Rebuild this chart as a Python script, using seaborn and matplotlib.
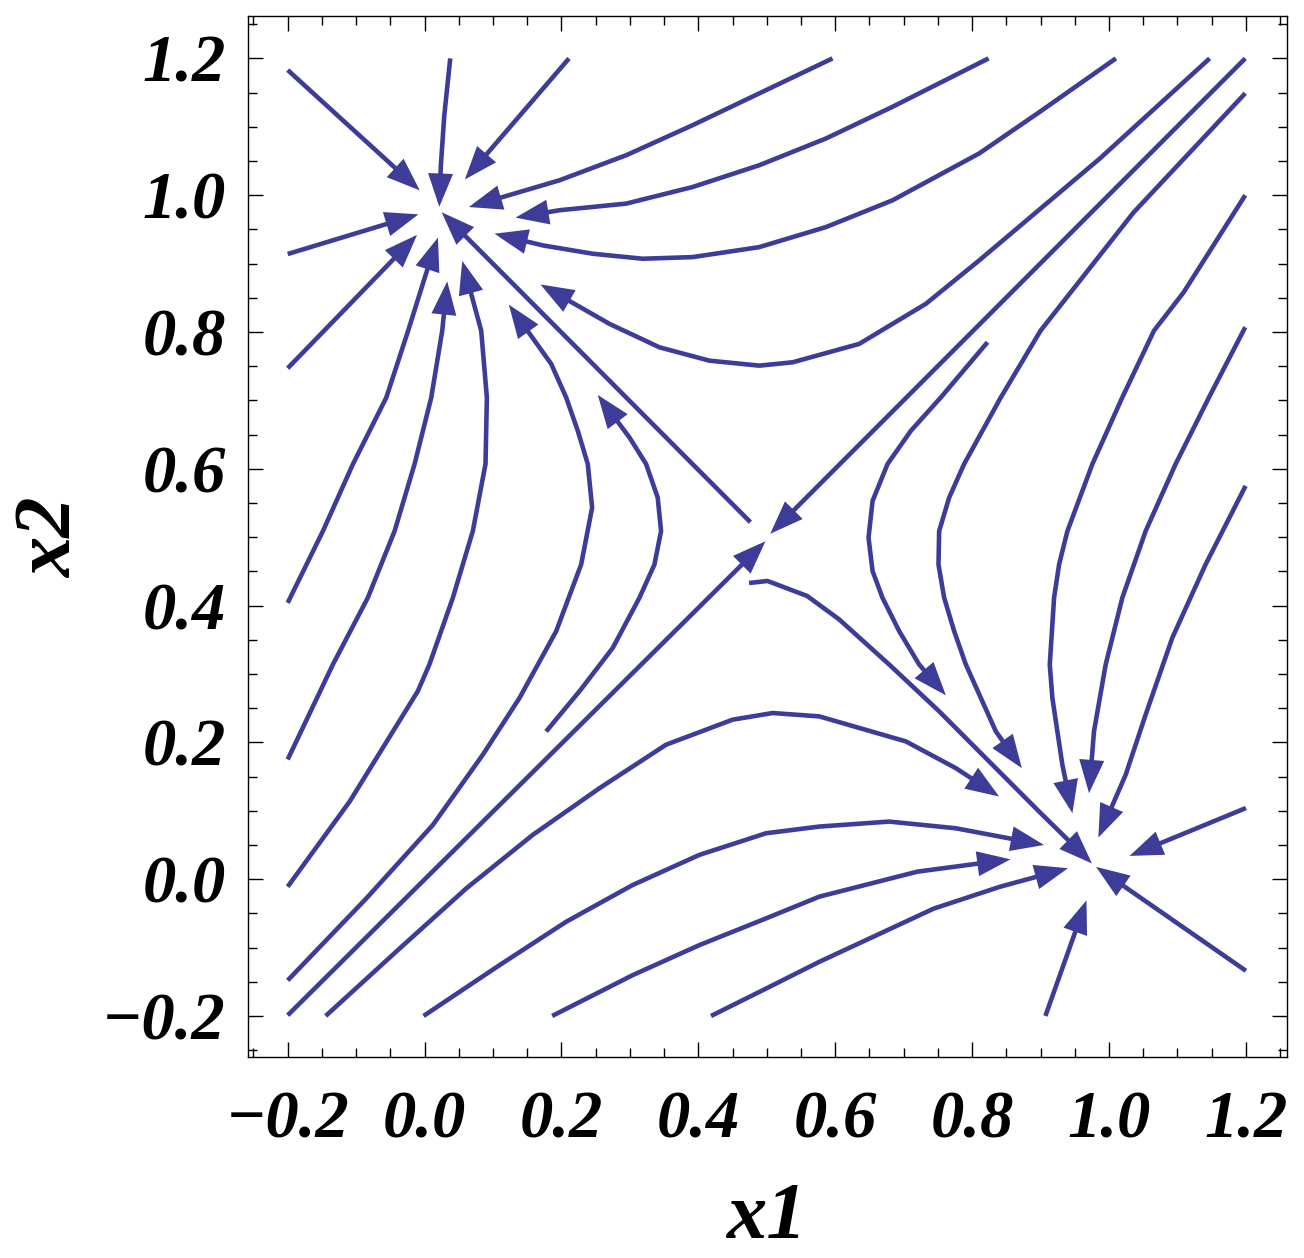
import numpy as np
import pandas as pd
import matplotlib
matplotlib.use("Agg")
import matplotlib.pyplot as plt
import seaborn as sns

# streamlines, (x1, x2) points, last point = arrow tip
sl_a = [(-0.200, 1.183), (-0.007, 1.007)]
sl_b = [(0.0375, 1.200), (0.0288, 1.117), (0.0238, 1.044), (0.0215, 0.983)]
sl_c = [(0.211, 1.200), (0.0588, 1.023)]
sl_d = [(0.596, 1.200), (0.489, 1.1489), (0.3917, 1.1024), (0.2945, 1.0584), (0.1971, 1.0218),
        (0.0647, 0.9827)]
sl_e = [(0.824, 1.200), (0.6836, 1.1292), (0.5864, 1.0829), (0.489, 1.0438), (0.3917, 1.012),
        (0.2945, 0.9877), (0.197, 0.978), (0.1328, 0.9672)]
sl_f = [(1.010, 1.200), (0.899, 1.122), (0.8102, 1.061), (0.6836, 0.9925), (0.5864, 0.9534),
        (0.489, 0.9241), (0.3917, 0.9095), (0.3187, 0.9071), (0.2457, 0.9144), (0.1727, 0.9266),
        (0.1022, 0.9437)]
sl_g = [(1.147, 1.200), (0.987, 1.054), (0.8102, 0.9046), (0.7324, 0.8412), (0.635, 0.7826),
        (0.5377, 0.7557), (0.489, 0.7508), (0.4161, 0.7581), (0.3431, 0.7776), (0.2701, 0.8119),
        (0.1693, 0.8695)]
sl_h = [(1.199, 1.200), (0.505, 0.505)]
sl_i = [(1.199, 1.149), (1.036, 0.975), (0.900, 0.802), (0.8419, 0.7044), (0.815, 0.6556),
        (0.7883, 0.607), (0.7664, 0.5579), (0.7518, 0.509), (0.7508, 0.460), (0.7591, 0.4114),
        (0.7737, 0.3626), (0.7908, 0.3138), (0.8127, 0.2649), (0.8346, 0.2161), (0.8726, 0.1623)]
sl_j = [(1.199, 1.000), (1.109, 0.858), (1.0657, 0.802), (1.0194, 0.7044), (0.9757, 0.607),
        (0.9392, 0.509), (0.927, 0.460), (0.9197, 0.4114), (0.9134, 0.3138), (0.9172, 0.2649),
        (0.9245, 0.2161), (0.9318, 0.1673), (0.9465, 0.0964)]
sl_k = [(1.199, 0.807), (1.146, 0.7044), (1.0973, 0.607), (1.0535, 0.509), (1.0194, 0.4114),
        (0.9951, 0.3138), (0.978, 0.2161), (0.9708, 0.1257)]
sl_l = [(1.1995, 0.575), (1.141, 0.460), (1.0924, 0.3528), (1.0535, 0.2406), (1.0243, 0.1526),
        (0.9844, 0.0608)]
sl_m = [(0.8224, 0.785), (0.7543, 0.7044), (0.7105, 0.6556), (0.6764, 0.607), (0.6545, 0.553),
        (0.6486, 0.4993), (0.6545, 0.4505), (0.669, 0.4114), (0.6934, 0.3626), (0.7226, 0.3138),
        (0.7616, 0.2688)]
sl_n = [(0.474, 0.433), (0.501, 0.436), (0.559, 0.414), (0.6058, 0.3797), (0.6788, 0.3138),
        (0.7518, 0.2454), (0.8248, 0.1721), (0.8978, 0.0989), (0.975, 0.023)]
sl_o = [(-0.1445, -0.200), (-0.0365, -0.1014), (0.0609, -0.0135), (0.1581, 0.0648),
        (0.2555, 0.133), (0.3528, 0.1966), (0.4501, 0.2332), (0.5085, 0.2429), (0.5766, 0.238),
        (0.7032, 0.2014), (0.7762, 0.1623), (0.8394, 0.1209)]
sl_p = [(-0.0015, -0.200), (0.1095, -0.1257), (0.2068, -0.0623), (0.3041, -0.0085),
        (0.4015, 0.0355), (0.4988, 0.0671), (0.5766, 0.0769), (0.6788, 0.0842), (0.7762, 0.0744),
        (0.905, 0.050)]
sl_q = [(0.1864, -0.200), (0.3041, -0.1403), (0.4015, -0.0964), (0.4988, -0.0574),
        (0.5766, -0.0256), (0.720, 0.011), (0.856, 0.029)]
sl_r = [(0.4185, -0.200), (0.4988, -0.160), (0.5766, -0.1209), (0.744, -0.043), (0.841, -0.011),
        (0.940, 0.016)]
sl_s = [(0.907, -0.200), (0.967, -0.031)]
sl_t = [(1.200, -0.134), (0.981, 0.018)]
sl_u = [(1.200, 0.104), (1.030, 0.034)]
sl_v = [(-0.200, 0.404), (-0.1485, 0.509), (-0.1046, 0.607), (-0.056, 0.704), (-0.024, 0.802),
        (0.002, 0.885), (0.0195, 0.938)]
sl_w = [(-0.200, 0.175), (-0.134, 0.3138), (-0.083, 0.4114), (-0.0438, 0.509), (-0.0146, 0.607),
        (0.0097, 0.704), (0.0258, 0.802), (0.0331, 0.874)]
sl_x = [(-0.200, -0.011), (-0.1095, 0.1135), (-0.010, 0.2747), (0.007, 0.3138), (0.0413, 0.4114),
        (0.0705, 0.509), (0.089, 0.607), (0.091, 0.704), (0.0827, 0.802), (0.055, 0.904)]
sl_y = [(-0.200, -0.148), (-0.0851, -0.0281), (0.0122, 0.0794), (0.0851, 0.182), (0.1387, 0.265),
        (0.1923, 0.3626), (0.2287, 0.460), (0.2448, 0.5432), (0.2384, 0.607), (0.2238, 0.6556),
        (0.2068, 0.7044), (0.185, 0.7533), (0.1231, 0.840)]
sl_z = [(-0.200, -0.199), (0.498, 0.494)]
sl_aa = [(0.1776, 0.216), (0.2263, 0.2747), (0.2749, 0.3381), (0.3139, 0.4114), (0.3358, 0.460),
         (0.3455, 0.509), (0.3406, 0.5579), (0.3236, 0.607), (0.2993, 0.6458), (0.253, 0.708)]
sl_ab = [(0.476, 0.522), (0.025, 0.975)]
sl_ac = [(-0.200, 0.914), (-0.009, 0.972)]
sl_ad = [(-0.200, 0.747), (-0.011, 0.942)]

streamlines = [sl_a, sl_b, sl_c, sl_d, sl_e, sl_f, sl_g, sl_h, sl_i, sl_j, sl_k, sl_l,
               sl_m, sl_n, sl_o, sl_p, sl_q, sl_r, sl_s, sl_t, sl_u, sl_v, sl_w, sl_x,
               sl_y, sl_z, sl_aa, sl_ab, sl_ac, sl_ad]

tick_values = [-0.2, 0.0, 0.2, 0.4, 0.6, 0.8, 1.0, 1.2]
tick_labels = ["\u22120.2", "0.0", "0.2", "0.4", "0.6", "0.8", "1.0", "1.2"]

color = "#3d3d99"
head_len = 0.047

sns.set_style("ticks")
plt.rcParams["font.family"] = ["Liberation Serif", "DejaVu Serif"]
plt.rcParams["text.color"] = "black"
plt.rcParams["axes.labelcolor"] = "black"
plt.rcParams["xtick.color"] = "black"
plt.rcParams["ytick.color"] = "black"

fig = plt.figure(figsize=(13.04, 12.58), dpi=100)
ax = fig.add_axes([248 / 1304, 1 - 1057 / 1258, 1039 / 1304, 1041 / 1258])

# shaft of each line stops inside the arrow head
rows = []
heads = []
for k, pts in enumerate(streamlines):
    arr = np.array(pts, dtype=float)
    tip = arr[-1]
    d = tip - arr[-2]
    d = d / np.hypot(*d)
    base = tip - head_len * d
    shaft = np.vstack([arr[:-1], tip - 0.6 * head_len * d])
    for x, y in shaft:
        rows.append({"line": k, "x1": x, "x2": y})
    heads.append((base, tip))
df = pd.DataFrame(rows)

sns.lineplot(data=df, x="x1", y="x2", units="line", estimator=None, sort=False,
             color=color, linewidth=3.3, legend=False, ax=ax,
             solid_capstyle="butt", solid_joinstyle="round")

for base, tip in heads:
    ax.annotate("", xy=tip, xytext=base, xycoords="data",
                arrowprops=dict(arrowstyle="-|>,head_length=2.4,head_width=0.9",
                                mutation_scale=10, shrinkA=0, shrinkB=0,
                                fc=color, ec="none", lw=0))

ax.set_xlim(-0.258, 1.26)
ax.set_ylim(-0.26, 1.262)
ax.set_xticks(tick_values)
ax.set_yticks(tick_values)
ax.set_xticklabels(tick_labels)
ax.set_yticklabels(tick_labels)
ax.set_xticks(np.arange(-0.25, 1.26, 0.05), minor=True)
ax.set_yticks(np.arange(-0.25, 1.26, 0.05), minor=True)
ax.tick_params(which="both", direction="in", top=True, right=True, width=1.0, color="black")
ax.tick_params(which="major", length=11)
ax.tick_params(which="minor", length=6.5)
ax.tick_params(axis="x", which="major", pad=24)
ax.tick_params(axis="y", which="major", pad=16)
for lab in ax.get_xticklabels() + ax.get_yticklabels():
    lab.set_fontsize(48)
    lab.set_fontweight("bold")
    lab.set_fontstyle("italic")
    lab.set_color("black")
for sp in ax.spines.values():
    sp.set_linewidth(1.0)
    sp.set_color("black")

ax.set_xlabel("x1", fontsize=58, fontweight="bold", fontstyle="italic", labelpad=22)
ax.set_ylabel("x2", fontsize=58, fontweight="bold", fontstyle="italic", labelpad=10)

fig.savefig("out.png", dpi=100)
